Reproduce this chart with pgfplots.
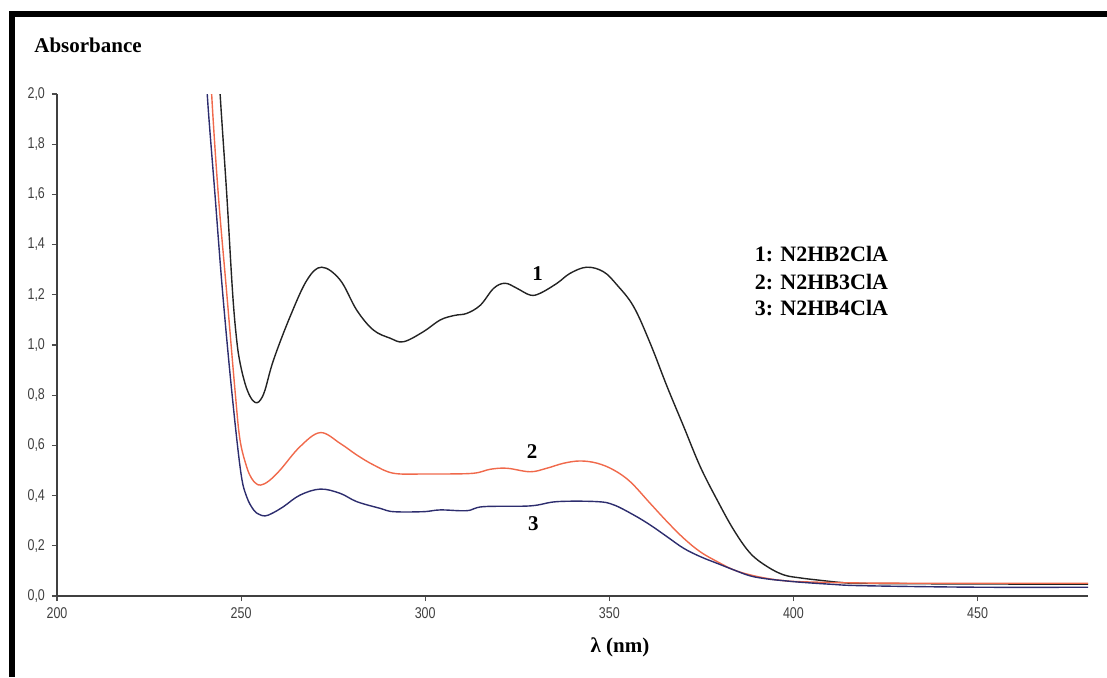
\documentclass[border=0pt]{standalone}
\usepackage{fontspec}
\setmainfont{Liberation Serif}
\newfontfamily\tickfont[FakeStretch=0.8]{Liberation Sans}
\usepackage{pgfplots}
\pgfplotsset{compat=1.18}
\definecolor{c1}{RGB}{35,35,35}
\definecolor{c2}{RGB}{240,105,75}
\definecolor{c3}{RGB}{45,45,110}
\begin{document}
\begin{tikzpicture}
\useasboundingbox (-28.5pt,-40.5pt) rectangle (525pt,298pt);
\fill[black] (-24pt,-40.5pt) rectangle (-21pt,292.5pt);
\fill[black] (-24pt,289.5pt) rectangle (525pt,292.5pt);
\begin{axis}[
  scale only axis, width=515.5pt, height=251pt,
  xmin=200, xmax=480, ymin=0, ymax=2,
  axis lines=left,
  axis line style={-, draw=black!75, line width=0.9pt},
  xtick={200,250,...,450},
  ytick={0,0.2,...,2.01},
  tick align=outside,
  major tick length=2.5pt,
  tick style={draw=black!70, line width=0.6pt},
  tick label style={font=\tickfont\fontsize{7.8}{8}\selectfont, text=black!75},
  /pgf/number format/assume math mode=true,
  yticklabel style={/pgf/number format/.cd, fixed, fixed zerofill, precision=1, use comma},
  xticklabel style={/pgf/number format/.cd, fixed, precision=0},
]
\addplot[c1, line width=0.7pt, smooth, tension=0.6] coordinates {
(243.2,2.30) (244.3,2.00) (246.1,1.60) (247.7,1.206) (248.8,1.02) (249.7,0.93) (251.1,0.845)
(252.4,0.796) (253.4,0.776) (254.3,0.770) (255.3,0.782) (256.5,0.821) (258.8,0.940) (263.3,1.113) (267.9,1.259)
(271.9,1.310) (276.9,1.259) (281.4,1.139) (285.9,1.060) (290.5,1.027) (294.1,1.013)
(299.5,1.053) (304.1,1.100) (308.0,1.118) (311.3,1.126) (315.0,1.159) (318.6,1.226)
(321.7,1.246) (324.9,1.226) (328.5,1.199) (331.2,1.206) (335.8,1.246) (339.4,1.286)
(343.9,1.310) (348.4,1.292) (352.1,1.239) (356.6,1.153) (361.1,1.007) (365.7,0.834)
(370.2,0.675) (374.7,0.515) (379.3,0.382) (383.8,0.263) (388.3,0.170) (392.9,0.117)
(397.4,0.084) (401.9,0.072) (406.4,0.064) (413.6,0.053) (420,0.050) (450,0.048) (480,0.047)
};
\addplot[c2, line width=0.7pt, smooth, tension=0.6] coordinates {
(241.6,2.20) (242.0,2.00) (243.8,1.60) (246.1,1.206) (248.4,0.81) (249.7,0.622)
(251.5,0.515) (252.8,0.470) (254.0,0.449) (255.3,0.442) (257.5,0.458) (260.6,0.502) (266.0,0.595)
(271.5,0.651) (276.9,0.608) (281.4,0.562) (286.0,0.522) (291.4,0.489) (299.5,0.486)
(304.1,0.486) (313.1,0.489) (317.7,0.505) (322.2,0.509) (328.5,0.495) (333.0,0.509)
(337.6,0.529) (342.1,0.538) (346.7,0.529) (351.2,0.502) (355.7,0.455) (361.1,0.369)
(365.7,0.296) (370.2,0.230) (374.7,0.176) (379.3,0.137) (383.8,0.104) (388.3,0.084)
(392.9,0.070) (397.4,0.061) (401.9,0.057) (413.6,0.053) (430,0.051) (480,0.051)
};
\addplot[c3, line width=0.7pt, smooth, tension=0.6] coordinates {
(240.4,2.20) (240.8,2.00) (242.9,1.60) (245.0,1.206) (247.5,0.81) (249.9,0.495)
(251.5,0.396) (253.4,0.343) (254.8,0.326) (256.5,0.319) (258.5,0.330) (261.5,0.356) (266.0,0.402) (271.5,0.426)
(276.9,0.409) (281.4,0.376) (287.8,0.349) (291.4,0.336) (299.5,0.336) (304.1,0.343)
(311.3,0.340) (315.8,0.356) (328.5,0.359) (335.8,0.376) (346.7,0.376) (351.2,0.363)
(356.6,0.323) (361.1,0.283) (365.7,0.236) (370.2,0.190) (374.7,0.157) (379.3,0.130)
(383.8,0.104) (388.3,0.080) (392.9,0.068) (397.4,0.061) (401.9,0.055) (410,0.047)
(419,0.041) (450,0.035) (480,0.035)
};
\node[font=\bfseries\fontsize{10.5}{12}\selectfont] at (axis cs:330.5,1.286) {1};
\node[font=\bfseries\fontsize{10.5}{12}\selectfont] at (axis cs:329,0.575) {2};
\node[font=\bfseries\fontsize{10.5}{12}\selectfont] at (axis cs:329.4,0.29) {3};
\node[anchor=base west, inner sep=0, font=\bfseries\fontsize{11}{12}\selectfont] at (axis cs:389.4,1.331) {1: N2HB2ClA};
\node[anchor=base west, inner sep=0, font=\bfseries\fontsize{11}{12}\selectfont] at (axis cs:389.4,1.223) {2: N2HB3ClA};
\node[anchor=base west, inner sep=0, font=\bfseries\fontsize{11}{12}\selectfont] at (axis cs:389.4,1.116) {3: N2HB4ClA};
\end{axis}
\node[anchor=base west, inner sep=0, font=\bfseries\fontsize{10.5}{12}\selectfont] at (-11.5pt,272pt) {Absorbance};
\node[font=\bfseries\fontsize{10.5}{12}\selectfont] at (281.5pt,-25.5pt) {λ (nm)};
\end{tikzpicture}
\end{document}
